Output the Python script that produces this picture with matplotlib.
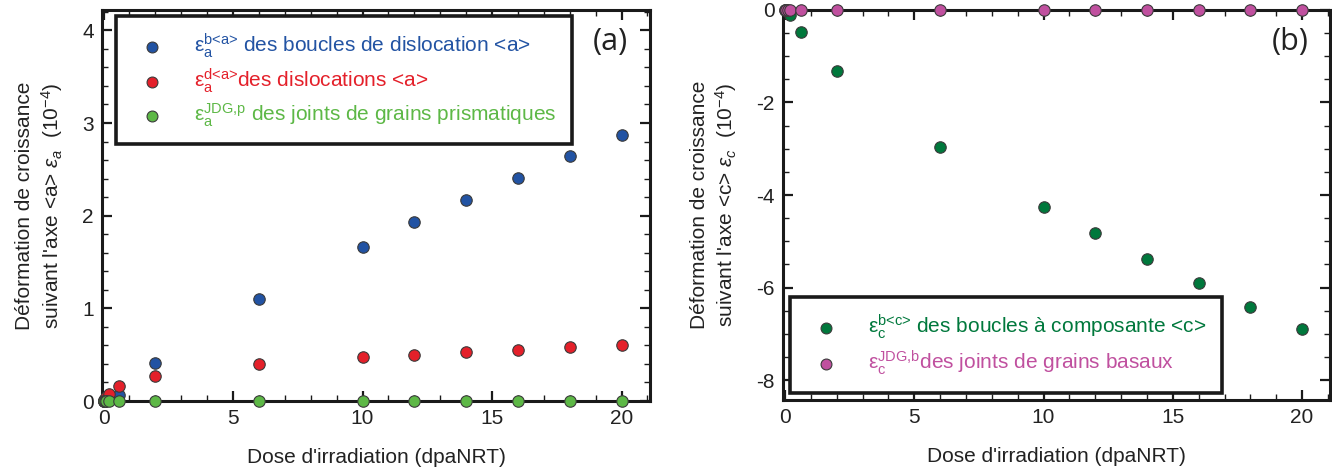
import matplotlib
matplotlib.use("Agg")
import matplotlib.pyplot as plt
from matplotlib.ticker import MultipleLocator

plt.rcParams['font.family'] = ['Liberation Sans', 'DejaVu Sans']
plt.rcParams['mathtext.fontset'] = 'custom'
plt.rcParams['mathtext.rm'] = 'Liberation Sans'
plt.rcParams['mathtext.it'] = 'Liberation Sans:italic'
plt.rcParams['axes.unicode_minus'] = False

# dose (dpaNRT)
dose = [0, 0.02, 0.05, 0.1, 0.2, 0.6, 2, 6, 10, 12, 14, 16, 18, 20]

# (a) strain along <a> (1e-4)
eps_a_boucles = [0, 0.0, 0.005, 0.01, 0.03, 0.07, 0.41, 1.10, 1.66, 1.93, 2.17, 2.41, 2.64, 2.87]
eps_a_disloc = [0, 0.01, 0.02, 0.04, 0.08, 0.16, 0.27, 0.40, 0.47, 0.50, 0.53, 0.55, 0.58, 0.60]
eps_a_jdg = [0] * len(dose)

# (b) strain along <c> (1e-4)
eps_c_boucles = [0, 0.0, -0.01, -0.03, -0.1, -0.47, -1.33, -2.97, -4.25, -4.83, -5.38, -5.9, -6.42, -6.9]
eps_c_jdg = [0] * len(dose)

fig = plt.figure(figsize=(13.32, 4.7), dpi=100)
ax1 = fig.add_axes([0.0766, 0.1468, 0.4114, 0.8320])
ax2 = fig.add_axes([0.5878, 0.1490, 0.4107, 0.8298])

mk = dict(marker='o', s=68, edgecolors='#3a3a3a', linewidths=0.8, clip_on=False, zorder=5)

h1 = ax1.scatter(dose, eps_a_boucles, color='#2253a3', **mk)
h2 = ax1.scatter(dose, eps_a_disloc, color='#e4202a', **mk)
h3 = ax1.scatter(dose, eps_a_jdg, color='#5db846', **mk)

h4 = ax2.scatter(dose, eps_c_boucles, color='#00783c', **mk)
h5 = ax2.scatter(dose, eps_c_jdg, color='#c0509f', **mk)

ax1.set_xlim(-0.06, 21.1)
ax1.set_ylim(0, 4.22)
ax1.yaxis.set_major_locator(MultipleLocator(1))
ax1.yaxis.set_minor_locator(MultipleLocator(0.2))

ax2.set_xlim(-0.08, 21.08)
ax2.set_ylim(-8.43, 0)
ax2.yaxis.set_major_locator(MultipleLocator(2))
ax2.yaxis.set_minor_locator(MultipleLocator(0.5))

for ax in (ax1, ax2):
    ax.xaxis.set_major_locator(MultipleLocator(5))
    ax.xaxis.set_minor_locator(MultipleLocator(1))
    ax.tick_params(which='both', direction='in', top=True, right=True, width=1.6, colors='#1a1a1a')
    ax.tick_params(which='major', length=7, labelsize=15, pad=6, labelcolor='#222222')
    ax.tick_params(which='minor', length=4, width=1.0)
    for sp in ax.spines.values():
        sp.set_linewidth(2.2)
        sp.set_color('#1a1a1a')
    ax.set_xlabel("Dose d'irradiation (dpaNRT)", fontsize=15, color='#222222', labelpad=14)

ax1.set_ylabel("Déformation de croissance\nsuivant l'axe <a> $\\mathit{\\varepsilon_a}$  (10$^{-4}$)",
               fontsize=15, color='#222222', labelpad=12, linespacing=1.25)
ax2.set_ylabel("Déformation de croissance\nsuivant l'axe <c> $\\mathit{\\varepsilon_c}$  (10$^{-4}$)",
               fontsize=15, color='#222222', labelpad=12, linespacing=1.25)

ax1.text(0.927, 0.918, '(a)', transform=ax1.transAxes, fontsize=22, ha='center', va='center',
         family='Open Sans', color='#222222')
ax2.text(0.927, 0.918, '(b)', transform=ax2.transAxes, fontsize=22, ha='center', va='center',
         family='Open Sans', color='#222222')

labels_a = [r'$\text{ε}_\text{a}^\text{b<a>}$ des boucles de dislocation <a>',
            r'$\text{ε}_\text{a}^\text{d<a>}$des dislocations <a>',
            r'$\text{ε}_\text{a}^\text{JDG,p}$ des joints de grains prismatiques']
leg1 = ax1.legend([h1, h2, h3], labels_a, loc='upper left', bbox_to_anchor=(0.025, 0.985),
                  fontsize=15, frameon=True, fancybox=False, framealpha=1, edgecolor='#1a1a1a',
                  labelcolor=['#2253a3', '#e4202a', '#5db846'], handletextpad=1.0,
                  borderpad=0.75, labelspacing=0.3, markerscale=0.95, borderaxespad=0)
leg1.get_frame().set_linewidth(2.6)

labels_c = [r'$\text{ε}_\text{c}^\text{b<c>}$ des boucles à composante <c>',
            r'$\text{ε}_\text{c}^\text{JDG,b}$des joints de grains basaux']
leg2 = ax2.legend([h4, h5], labels_c, loc='lower left', bbox_to_anchor=(0.012, 0.018),
                  fontsize=15, frameon=True, fancybox=False, framealpha=1, edgecolor='#1a1a1a',
                  labelcolor=['#00783c', '#c0509f'], handletextpad=1.0,
                  borderpad=0.75, labelspacing=0.35, markerscale=0.95, borderaxespad=0)
leg2.get_frame().set_linewidth(2.6)

fig.savefig('out.png', dpi=100)
